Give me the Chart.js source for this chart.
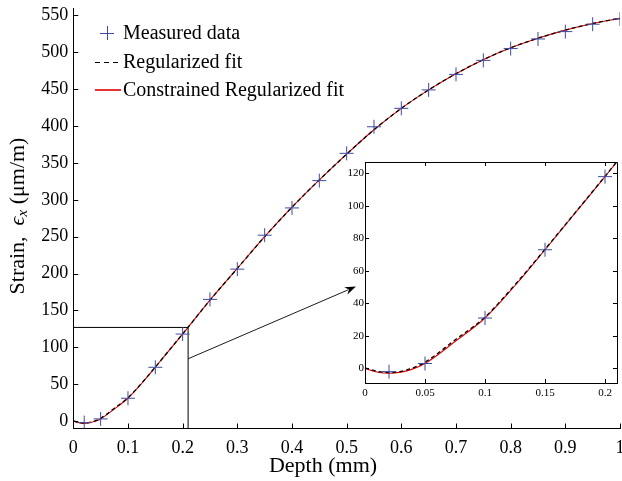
<!DOCTYPE html>
<html><head><meta charset="utf-8">
<script src="https://cdn.jsdelivr.net/npm/chart.js@4.4.0/dist/chart.umd.min.js"></script>
<style>
html,body{margin:0;padding:0;background:#fff;}
#wrap{position:relative;width:622px;height:481px;overflow:hidden;}
#main{position:absolute;left:0;top:0;}
#inset{position:absolute;left:320px;top:150px;}
</style></head><body>
<div id="wrap"><canvas id="main" width="632" height="481"></canvas><canvas id="inset" width="312" height="250"></canvas></div>
<script>
// ---- data ----
const depthMeasured  = [0.02,0.05,0.1,0.15,0.2,0.25,0.3,0.35,0.4,0.45,0.5,0.55,0.6,0.65,0.7,0.75,0.8,0.85,0.9,0.95,1.0];
const strainMeasured = [-2,3,31,73,118,165,206,252,289,326,363,399,424,449,470,489,505,518,528,538,545];
const fitDepth        = [0,0.01,0.02,0.03,0.04,0.05,0.075,0.1,0.125,0.15,0.175,0.2,0.25,0.3,0.35,0.4,0.45,0.5,0.55,0.6,0.65,0.7,0.75,0.8,0.85,0.9,0.95,1.0];
const regularizedFit  = [0.3,-1.8,-2.6,-1.8,0.3,3.8,17.5,31.6,51.5,73.3,95.7,118.2,164,207,250,290,327,362,395,424,449,471,490,506,519,530,539,546];
const constrainedFit  = [0,-2.2,-3,-2.3,-0.3,3,16.5,31,51,73,95.5,118,164,207,250,290,327,362,395,424,449,471,490,506,519,530,539,546];
const zoomBoxDepth  = [0.21,0.21,0];
const zoomBoxStrain = [-10,127,127];
const mainXTicks  = [0,0.1,0.2,0.3,0.4,0.5,0.6,0.7,0.8,0.9,1];
const mainYTicks  = [0,50,100,150,200,250,300,350,400,450,500,550];
const insetXTicks = [0,0.05,0.1,0.15,0.2];
const insetYTicks = [0,20,40,60,80,100,120];
const seriesNames = ['Measured data','Regularized fit','Constrained Regularized fit'];
const xTitle = 'Depth (mm)';

const SERIF = '"Liberation Serif","DejaVu Serif","Times New Roman",serif';
const BLUE = '#3d4b9e';
const pts = (xs, ys) => xs.map((x,i)=>({x, y: ys[i]}));
const noPad = s => { s.paddingLeft=0; s.paddingRight=0; s.paddingTop=0; s.paddingBottom=0; };

const inwardTicks = {
  id:'inwardTicks',
  afterDraw(chart, args, opts){
    const {ctx, chartArea:a, scales:{x,y}} = chart;
    const L = opts.len || 5;
    ctx.save(); ctx.strokeStyle='#000'; ctx.lineWidth=1; ctx.setLineDash([]);
    ctx.beginPath();
    x.ticks.forEach(t=>{
      const px = Math.round(x.getPixelForValue(t.value))+0.5;
      ctx.moveTo(px,a.bottom); ctx.lineTo(px,a.bottom-L);
      if(opts.box){ctx.moveTo(px,a.top); ctx.lineTo(px,a.top+L);}
    });
    y.ticks.forEach(t=>{
      const py = Math.round(y.getPixelForValue(t.value))+0.5;
      ctx.moveTo(a.left,py); ctx.lineTo(a.left+L,py);
      if(opts.box){ctx.moveTo(a.right,py); ctx.lineTo(a.right-L,py);}
    });
    if(opts.box){ ctx.rect(Math.round(a.left)+0.5, Math.round(a.top)+0.5, Math.round(a.right-a.left), Math.round(a.bottom-a.top)); }
    ctx.stroke(); ctx.restore();
  }
};

const decorations = {
  id:'decorations',
  afterDraw(chart, args, opts){
    const {ctx, chartArea:a, scales:{x,y}} = chart;
    ctx.save();
    // x-axis title
    ctx.font='22px '+SERIF; ctx.fillStyle='#000'; ctx.textAlign='center'; ctx.textBaseline='middle';
    ctx.fillText(xTitle, 323, 466);
    ctx.restore();
    ctx.save();
    // y-axis title with italic epsilon and subscript
    ctx.translate(18, 216);
    ctx.rotate(-Math.PI/2);
    const parts=[
      {t:'Strain,  ', f:'22px '+SERIF, dy:0},
      {t:'\u03F5', f:'italic 22px '+SERIF, dy:0},
      {t:'x', f:'italic 15px '+SERIF, dy:5},
      {t:' (\u03BCm/m)', f:'22px '+SERIF, dy:0}
    ];
    let total=0;
    parts.forEach(p=>{ctx.font=p.f; p.w=ctx.measureText(p.t).width; total+=p.w;});
    let cx=-total/2;
    ctx.fillStyle='#000'; ctx.textBaseline='middle'; ctx.textAlign='left';
    parts.forEach(p=>{ctx.font=p.f; ctx.fillText(p.t,cx,p.dy); cx+=p.w;});
    ctx.restore();

    // arrow from zoom box to inset
    const x0=x.getPixelForValue(opts.arrow[0]), y0=y.getPixelForValue(opts.arrow[1]);
    const x1=x.getPixelForValue(opts.arrow[2]), y1=y.getPixelForValue(opts.arrow[3]);
    const ang=Math.atan2(y1-y0,x1-x0), hl=11, hw=4;
    ctx.save(); ctx.strokeStyle='#000'; ctx.fillStyle='#000'; ctx.lineWidth=0.9;
    ctx.beginPath(); ctx.moveTo(x0,y0);
    ctx.lineTo(x1-Math.cos(ang)*hl*0.8, y1-Math.sin(ang)*hl*0.8); ctx.stroke();
    ctx.beginPath(); ctx.moveTo(x1,y1);
    ctx.lineTo(x1-Math.cos(ang)*hl-Math.sin(ang)*hw, y1-Math.sin(ang)*hl+Math.cos(ang)*hw);
    ctx.lineTo(x1-Math.cos(ang)*hl*0.7, y1-Math.sin(ang)*hl*0.7);
    ctx.lineTo(x1-Math.cos(ang)*hl+Math.sin(ang)*hw, y1-Math.sin(ang)*hl-Math.cos(ang)*hw);
    ctx.closePath(); ctx.fill();
    ctx.restore();

    // legend
    ctx.save();
    ctx.font='20px '+SERIF; ctx.textBaseline='middle'; ctx.fillStyle='#000';
    const lx=95, tx=123, rows=[33,62,90];
    ctx.strokeStyle=BLUE; ctx.lineWidth=1; ctx.beginPath();
    ctx.moveTo(107-7,rows[0]+0.5); ctx.lineTo(107+7,rows[0]+0.5);
    ctx.moveTo(107.5,rows[0]-7); ctx.lineTo(107.5,rows[0]+7); ctx.stroke();
    ctx.strokeStyle='#000'; ctx.setLineDash([5,4]); ctx.beginPath();
    ctx.moveTo(lx,rows[1]+0.5); ctx.lineTo(lx+26,rows[1]+0.5); ctx.stroke();
    ctx.setLineDash([]); ctx.strokeStyle='#e00000'; ctx.lineWidth=1.6; ctx.beginPath();
    ctx.moveTo(lx,rows[2]); ctx.lineTo(lx+26,rows[2]); ctx.stroke();
    seriesNames.forEach((n,i)=>ctx.fillText(n,tx,rows[i]+1));
    ctx.restore();
  }
};

function datasets(withBox){
  const ds=[
    {label:seriesNames[0], data:pts(depthMeasured,strainMeasured), showLine:false,
     pointStyle:'cross', pointRadius:7, pointBorderColor:BLUE, pointBorderWidth:1, pointBackgroundColor:BLUE},
    {label:seriesNames[1], data:pts(fitDepth,regularizedFit), showLine:true, borderColor:'#000', borderWidth:1.3,
     borderDash:[4,3], pointRadius:0, cubicInterpolationMode:'monotone', fill:false},
    {label:seriesNames[2], data:pts(fitDepth,constrainedFit), showLine:true, borderColor:'#e00000', borderWidth:1.1,
     pointRadius:0, cubicInterpolationMode:'monotone', fill:false}
  ];
  if(withBox) ds.push({label:'box', data:pts(zoomBoxDepth,zoomBoxStrain), showLine:true, borderColor:'#000', borderWidth:1,
     pointRadius:0, tension:0, fill:false, clip:false});
  return ds;
}

const fmt = v => String(+Number(v).toFixed(3));
const hiddenTicks = (len) => ({display:false, drawTicks:true, tickLength:len, tickColor:'rgba(0,0,0,0)'});

new Chart(document.getElementById('main'), {
  type:'scatter',
  data:{datasets:datasets(true)},
  options:{
    responsive:false, animation:false, events:[],
    layout:{padding:{top:8,right:12,left:0,bottom:0}},
    plugins:{legend:{display:false}, tooltip:{enabled:false},
      inwardTicks:{len:5, box:false},
      decorations:{arrow:[0.21,84.5,0.517,182.5]}},
    scales:{
      x:{type:'linear', min:0, max:1,
        afterBuildTicks:s=>{s.ticks=mainXTicks.map(v=>({value:v}));},
        afterFit:s=>{s.height=52.5; noPad(s);},
        grid:hiddenTicks(9), border:{display:true,color:'#000',width:1},
        ticks:{font:{family:SERIF,size:18}, color:'#000', padding:0, callback:fmt, maxRotation:0, autoSkip:false}},
      y:{type:'linear', min:-10, max:560,
        afterBuildTicks:s=>{s.ticks=mainYTicks.map(v=>({value:v}));},
        afterFit:s=>{s.width=73.3; noPad(s);},
        grid:{display:false, drawTicks:false}, border:{display:true,color:'#000',width:1},
        ticks:{font:{family:SERIF,size:18}, color:'#000', padding:5, callback:fmt, autoSkip:false}}
    }
  },
  plugins:[inwardTicks, decorations]
});

new Chart(document.getElementById('inset'), {
  type:'scatter',
  data:{datasets:datasets(false)},
  options:{
    responsive:false, animation:false, events:[],
    layout:{padding:{top:12,right:15,left:0,bottom:0}},
    plugins:{legend:{display:false}, tooltip:{enabled:false}, inwardTicks:{len:4, box:true}},
    scales:{
      x:{type:'linear', min:0, max:0.21,
        afterBuildTicks:s=>{s.ticks=insetXTicks.map(v=>({value:v}));},
        afterFit:s=>{s.height=17; noPad(s);},
        grid:hiddenTicks(4), border:{display:true,color:'#000',width:1},
        ticks:{font:{family:SERIF,size:11}, color:'#000', padding:0, callback:fmt, maxRotation:0, autoSkip:false}},
      y:{type:'linear', min:-9, max:127,
        afterBuildTicks:s=>{s.ticks=insetYTicks.map(v=>({value:v}));},
        afterFit:s=>{s.width=45; noPad(s);},
        grid:{display:false, drawTicks:false}, border:{display:true,color:'#000',width:1},
        ticks:{font:{family:SERIF,size:11}, color:'#000', padding:1, callback:fmt, autoSkip:false}}
    }
  },
  plugins:[inwardTicks]
});
</script>
</body></html>
